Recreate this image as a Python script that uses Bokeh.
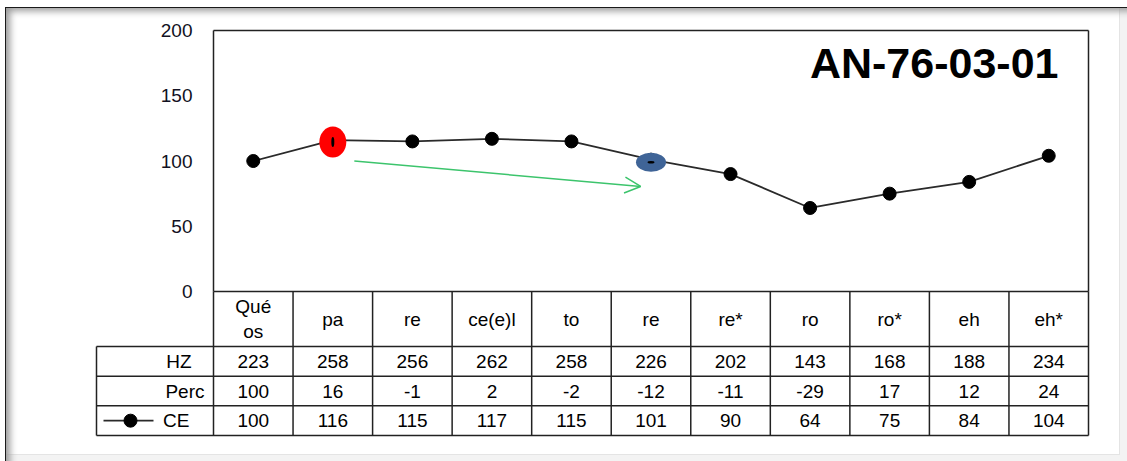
from bokeh.plotting import figure
from bokeh.models import Range1d, ColumnDataSource, Arrow, OpenHead, Label
from bokeh.core.properties import value
from bokeh.embed import file_html
from bokeh.resources import INLINE

# ---------------- data ----------------
categories = ["Qué\nos", "pa", "re", "ce(e)l", "to", "re", "re*", "ro", "ro*", "eh", "eh*"]
hz = [223, 258, 256, 262, 258, 226, 202, 143, 168, 188, 234]
perc = [100, 16, -1, 2, -2, -12, -11, -29, 17, 12, 24]
ce = [100, 116, 115, 117, 115, 101, 90, 64, 75, 84, 104]
row_labels = ["HZ", "Perc", "CE"]
y_ticks = [0, 50, 100, 150, 200]
y_tick_labels = ["0", "50", "100", "150", "200"]
title_text = "AN-76-03-01"
red_index = 1
blue_index = 5
arrow_start = (1.77, 100.0)
arrow_end = (5.37, 80.5)

# ---------------- layout constants (pixels) ----------------
FONT = "Liberation Sans"
FS = "19px"
W, H = 1127, 461
PLOT_L, PLOT_R, PLOT_T, PLOT_B = 213, 1088, 30, 291   # chart plot area
TABLE_L, TABLE_B = 96, 435
HEADER_B = 346
FRAME_T = 15
n = len(categories)
col_px = (PLOT_R - PLOT_L) / n
ppu = (PLOT_B - PLOT_T) / 200.0
row_px = (TABLE_B - HEADER_B) / 3.0
EXT = 3
RED_DY_PX = 2     # hand-drawn highlight offsets (pixels, downward)
BLUE_DY_PX = 2.5


def px_x(pix):
    return (pix - PLOT_L) / col_px


def px_y(pix):
    return (PLOT_B - pix) / ppu


LINE = "#222222"
GREEN = "#3cc46c"
xs = [i + 0.5 for i in range(n)]

shadow = ", ".join([
    "inset 5px 7px 0 0 #ffffff",
    "inset 6px 8px 0 0 #1a1a1a",
    "inset 13px 14px 7px -3px #9a9a9a",
    "inset -7px -6px 0 0 #f3f3f3",
    "inset -8px -7px 0 0 #e4e4e4",
])

p = figure(width=W, height=H,
           x_range=Range1d(px_x(TABLE_L - EXT), px_x(PLOT_R + EXT)),
           y_range=Range1d(px_y(TABLE_B + EXT), px_y(FRAME_T)),
           output_backend="svg", toolbar_location=None,
           x_axis_location=None, y_axis_location=None,
           min_border_left=TABLE_L - EXT, min_border_right=W - (PLOT_R + EXT),
           min_border_top=FRAME_T, min_border_bottom=H - (TABLE_B + EXT),
           border_fill_color=None, background_fill_color=None,
           outline_line_color=None,
           styles={"box-shadow": shadow, "background-color": "#ffffff"})
p.xgrid.visible = False
p.ygrid.visible = False

# ---- y tick labels (positioned through the y scale) ----
p.text(x=[px_x(192)] * len(y_ticks), y=y_ticks, text=y_tick_labels,
       text_font=value(FONT), text_font_size=FS, text_color="#111122",
       text_align="right", text_baseline="middle")

# ---- chart border ----
p.segment(x0=[0, 0, 0, n], y0=[0, 200, 0, 0], x1=[n, n, 0, n], y1=[0, 200, 200, 200],
          line_color=LINE, line_width=1.5)

# ---- series ----
src = ColumnDataSource(dict(x=xs, y=ce))
p.line("x", "y", source=src, line_color="#2a2a2a", line_width=1.8)
p.scatter("x", "y", source=src, size=13, fill_color="black", line_color="black")

ry = ce[red_index] - RED_DY_PX / ppu
by = ce[blue_index] - BLUE_DY_PX / ppu
p.ellipse(x=[xs[red_index]], y=[ry], width=27, height=31,
          width_units="screen", height_units="screen", fill_color="#ff0000", line_color=None)
p.ellipse(x=[xs[red_index]], y=[ry], width=3, height=10,
          width_units="screen", height_units="screen", fill_color="black", line_color=None)
p.ellipse(x=[xs[blue_index]], y=[by], width=30, height=19,
          width_units="screen", height_units="screen", fill_color="#3f6497", line_color=None)
p.ellipse(x=[xs[blue_index]], y=[by], width=7, height=2.5,
          width_units="screen", height_units="screen", fill_color="black", line_color=None)

p.add_layout(Arrow(end=OpenHead(size=16, line_color=GREEN, line_width=1.5),
                   x_start=arrow_start[0], y_start=arrow_start[1],
                   x_end=arrow_end[0], y_end=arrow_end[1],
                   line_color=GREEN, line_width=1.5))

p.add_layout(Label(x=px_x(1058), y=px_y(62), text=title_text, text_align="right",
                   text_baseline="middle", text_font=FONT, text_font_style="bold",
                   text_font_size="43px", text_color="black"))

# ---- data table grid ----
row_edges = [px_y(HEADER_B + k * row_px) for k in range(4)]
p.segment(x0=[px_x(TABLE_L)] * 4, y0=row_edges, x1=[n] * 4, y1=row_edges,
          line_color=LINE, line_width=1.5)
vx = list(range(n + 1))
p.segment(x0=vx, y0=[row_edges[-1]] * len(vx), x1=vx, y1=[0] * len(vx),
          line_color=LINE, line_width=1.5)
p.segment(x0=[px_x(TABLE_L)], y0=[row_edges[0]], x1=[px_x(TABLE_L)], y1=[row_edges[-1]],
          line_color=LINE, line_width=1.5)

txt = dict(text_font=value(FONT), text_font_size=FS, text_color="#000000",
           text_align="center", text_baseline="middle")
row_centers = [(row_edges[k] + row_edges[k + 1]) / 2 for k in range(3)]
p.text(x=xs, y=[row_edges[0] / 2] * n, text=categories, text_line_height=1.2, **txt)
p.text(x=xs, y=[row_centers[0]] * n, text=[str(v) for v in hz], **txt)
p.text(x=xs, y=[row_centers[1]] * n, text=[str(v) for v in perc], **txt)
p.text(x=xs, y=[row_centers[2]] * n, text=[str(v) for v in ce], **txt)

# row labels
label_right = [px_x(191), px_x(204), px_x(189)]
p.text(x=label_right, y=row_centers, text=row_labels,
       text_font=value(FONT), text_font_size=FS, text_color="#000000",
       text_align="right", text_baseline="middle")

# legend key for CE
k0, k1, km = px_x(103), px_x(153), px_x(130)
p.line(x=[k0, k1], y=[row_centers[2]] * 2, line_color="#2a2a2a", line_width=1.8)
p.scatter(x=[km], y=[row_centers[2]], size=13, fill_color="black", line_color="black")

open("out.html", "w").write(file_html(p, INLINE))
